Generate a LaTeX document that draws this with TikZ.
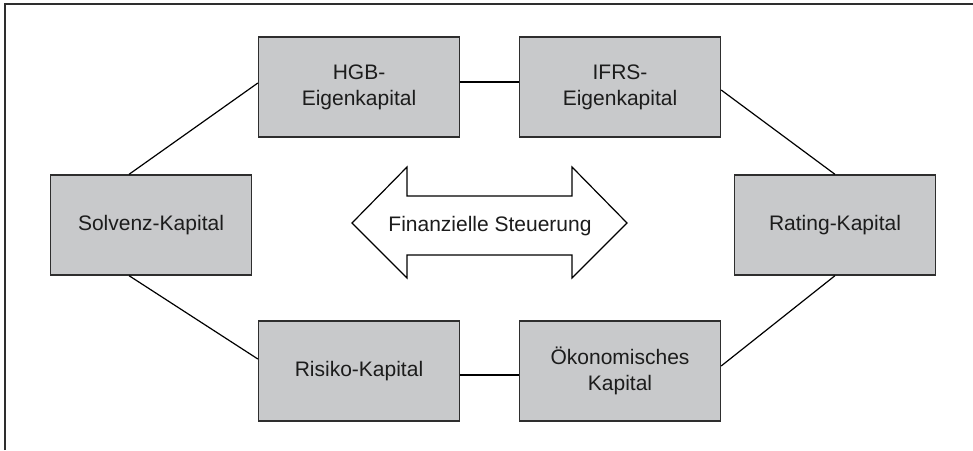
\documentclass[tikz,border=0pt]{standalone}
\usepackage{fontspec}
\setmainfont{Liberation Sans}
\usetikzlibrary{arrows.meta,positioning}
\definecolor{BoxGray}{HTML}{C8C9CB}
\definecolor{EdgeGray}{HTML}{2E2E2E}
\definecolor{InkGray}{HTML}{1C1C1C}

\begin{document}
\begin{tikzpicture}[
      x=1pt, y=-1pt,
      capbox/.style={
        minimum width=201pt,
        minimum height=100pt,
        inner sep=0pt,
        draw=EdgeGray,
        fill=BoxGray,
        line width=1.3pt,
        text=InkGray,
        align=center,
        font=\fontsize{21}{26}\selectfont
      },
      link/.style={draw=black, line width=1.2pt},
      frameline/.style={draw=EdgeGray, line width=1.4pt},
      bigarrow/.style={draw=black, line width=1.2pt, fill=white, line join=miter}
    ]
      \useasboundingbox (0,0) rectangle (973,450);
      \draw[frameline] (5,450) -- (5,4) -- (973,4);

      \node[capbox] (hgb)  at (359,87)  {HGB-\\Eigenkapital};
      \node[capbox] (ifrs) at (620,87)  {IFRS-\\Eigenkapital};
      \node[capbox] (solv) at (151,225) {Solvenz-Kapital};
      \node[capbox] (rate) at (835,225) {Rating-Kapital};
      \node[capbox] (risk) at (359,371) {Risiko-Kapital};
      \node[capbox] (oeko) at (620,371) {Ökonomisches\\Kapital};

      \draw[bigarrow] (352,223) -- (407,167) -- (407,196) -- (572,196) -- (572,167)
        -- (627,223) -- (572,278) -- (572,255) -- (407,255) -- (407,278) -- cycle;
      \node[text=InkGray, font=\fontsize{21}{26}\selectfont] (steer) at (490,226)
        {Finanzielle Steuerung};

      \draw[link] ([xshift=-22pt]solv.north) -- ([yshift=4pt]hgb.west);
      \draw[link] ([yshift=5pt]hgb.east) -- ([yshift=5pt]ifrs.west);
      \draw[link] ([yshift=-3pt]ifrs.east) -- (rate.north);
      \draw[link] (rate.south) -- ([yshift=5pt]oeko.east);
      \draw[link] ([yshift=-4pt]risk.east) -- ([yshift=-4pt]oeko.west);
      \draw[link] ([xshift=-22pt]solv.south) -- ([yshift=12pt]risk.west);
    \end{tikzpicture}
\end{document}
